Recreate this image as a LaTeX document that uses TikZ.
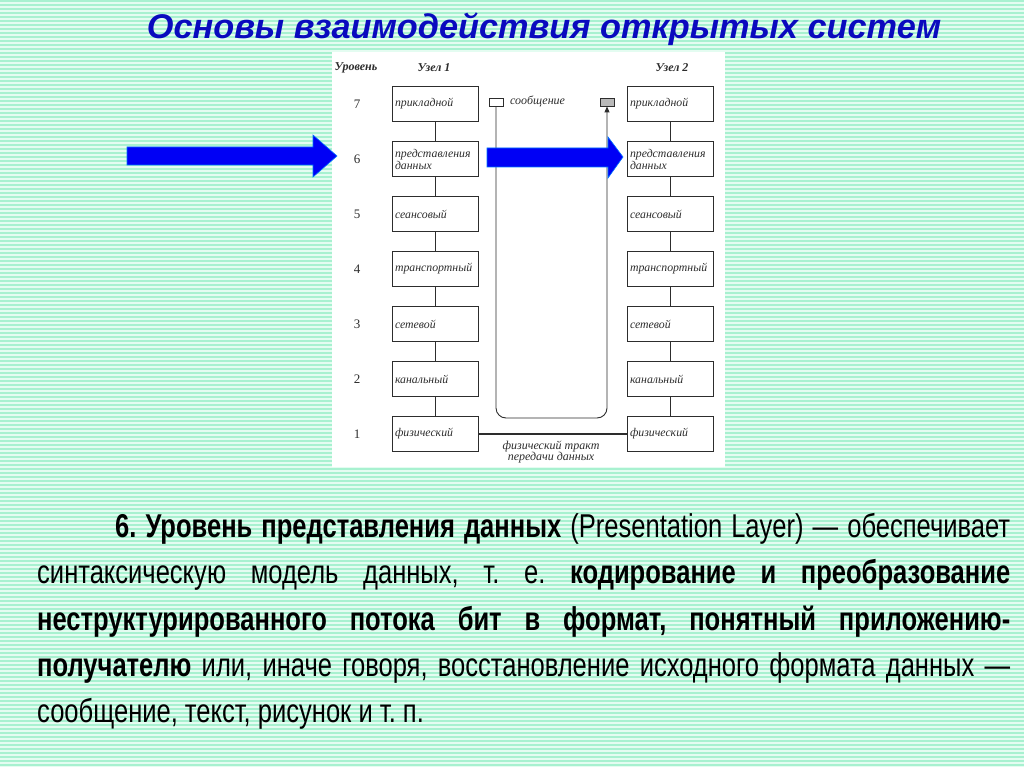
\documentclass[tikz,border=0pt]{standalone}
\usepackage{fontspec}
\usepackage{tikz}
\usetikzlibrary{arrows.meta}
\newfontfamily\figfont{Liberation Serif}
\newfontfamily\bodyfont[FakeStretch=0.774]{Liberation Sans}
\newfontfamily\titlefont{Liberation Sans}
\definecolor{mint}{RGB}{168,241,208}
\definecolor{mintlight}{RGB}{228,252,241}
\definecolor{titleblue}{RGB}{10,10,190}
\definecolor{arrowblue}{RGB}{0,0,245}
\definecolor{scanink}{RGB}{45,45,45}

\begin{document}
\begin{tikzpicture}[
    x=1pt,
    y={(0pt,-1pt)},
    layer_box/.style={rectangle, draw=scanink, line width=1pt, fill=white, minimum width=86pt, minimum height=35pt, text width=80pt, inner xsep=3pt, inner ysep=2pt, align=left, text=scanink, font=\figfont\itshape\fontsize{11.8}{12}\selectfont},
    level_num/.style={text=scanink, font=\figfont\fontsize{13}{13}\selectfont},
    head_style/.style={text=scanink, font=\figfont\bfseries\itshape\fontsize{12}{12}\selectfont},
    small_text/.style={text=scanink, align=center, inner sep=0pt, font=\figfont\itshape\fontsize{12}{11}\selectfont},
    link_style/.style={draw=scanink, line width=0.9pt},
    phys_link/.style={draw=scanink, line width=1.8pt},
    msg_box/.style={rectangle, draw=scanink, line width=0.9pt, fill=white, minimum width=14pt, minimum height=8pt, inner sep=0pt},
    route_style/.style={draw=scanink, line width=0.9pt, rounded corners=10pt},
    big_arrow/.style={fill=arrowblue, draw=blue!55!cyan, line width=0.6pt},
    title_style/.style={text=titleblue, inner sep=0pt, font=\titlefont\bfseries\itshape\fontsize{34.3}{40}\selectfont},
    body_text/.style={text width=973pt, align=justify, inner sep=0pt, font=\bodyfont\fontsize{33}{46.3}\selectfont\frenchspacing}
]
  \useasboundingbox (0,0) rectangle (1024,767);
  % Striped background and the scanned panel
  \fill[mint] (0,0) rectangle (1024,767);
  \foreach \s in {0,...,191} {
    \fill[mintlight] (0,4*\s+2) rectangle (1024,4*\s+4);
  }
  \fill[white] (332,52) rectangle (725,467);

  \node[title_style, anchor=base] (title) at (544,39) {Основы взаимодействия открытых систем};

  % Headings of the two columns
  \node[head_style] (lv_head) at (356,68) {Уровень};
  \node[head_style] (node_a) at (434,68) {Узел 1};
  \node[head_style] (node_b) at (672,68) {Узел 2};

  % Levels and layer boxes of both nodes
  \foreach \k/\txt in {7/прикладной, 6/{представления\\данных}, 5/сеансовый, 4/транспортный, 3/сетевой, 2/канальный, 1/физический} {
    \pgfmathsetmacro\ypos{104+55*(7-\k)}
    \node[level_num] (lv\k) at (357,\ypos) {\k};
    \node[layer_box] (a\k) at (435,\ypos) {\txt};
    \node[layer_box] (b\k) at (670,\ypos) {\txt};
  }
  \foreach \k in {2,...,7} {
    \pgfmathtruncatemacro\j{\k-1}
    \draw[link_style] (a\k) -- (a\j);
    \draw[link_style] (b\k) -- (b\j);
  }

  % Message path from node 1 to node 2
  \node[msg_box] (msg_a) at (496,102) {};
  \node[msg_box, fill=gray!55] (msg_b) at (607,102) {};
  \node[small_text, anchor=west] (msg_lbl) at (510,101) {сообщение};
  \coordinate (route_low) at (551,418);
  \draw[route_style, -{Triangle[length=6pt, width=5pt]}] (msg_a.south) |- (route_low) -| (msg_b.south);

  % Physical channel
  \draw[phys_link] (a1) -- (b1);
  \node[small_text] (phys_lbl) at (551,452) {физический тракт\\передачи данных};

  % Blue arrows pointing at level 6
  \draw[big_arrow] (127,147) -- (313,147) -- (313,135) -- (337,156) -- (313,177) -- (313,165) -- (127,165) -- cycle;
  \draw[big_arrow] (487,148) -- (608,148) -- (608,137) -- (623,157) -- (608,178) -- (608,167) -- (487,167) -- cycle;

  % Explanation text
  \node[body_text, anchor=north west] (body) at (37,513) {\hspace*{78pt}\textbf{6. Уровень представления данных} (Presentation Layer) — обеспечивает\linebreak
    синтаксическую модель данных, т. е. \textbf{кодирование и преобразование}\linebreak
    \textbf{неструктурированного потока бит в формат, понятный приложению-}\linebreak
    \textbf{получателю} или, иначе говоря, восстановление исходного формата данных —\linebreak
    сообщение, текст, рисунок и т. п.};
\end{tikzpicture}
\end{document}
